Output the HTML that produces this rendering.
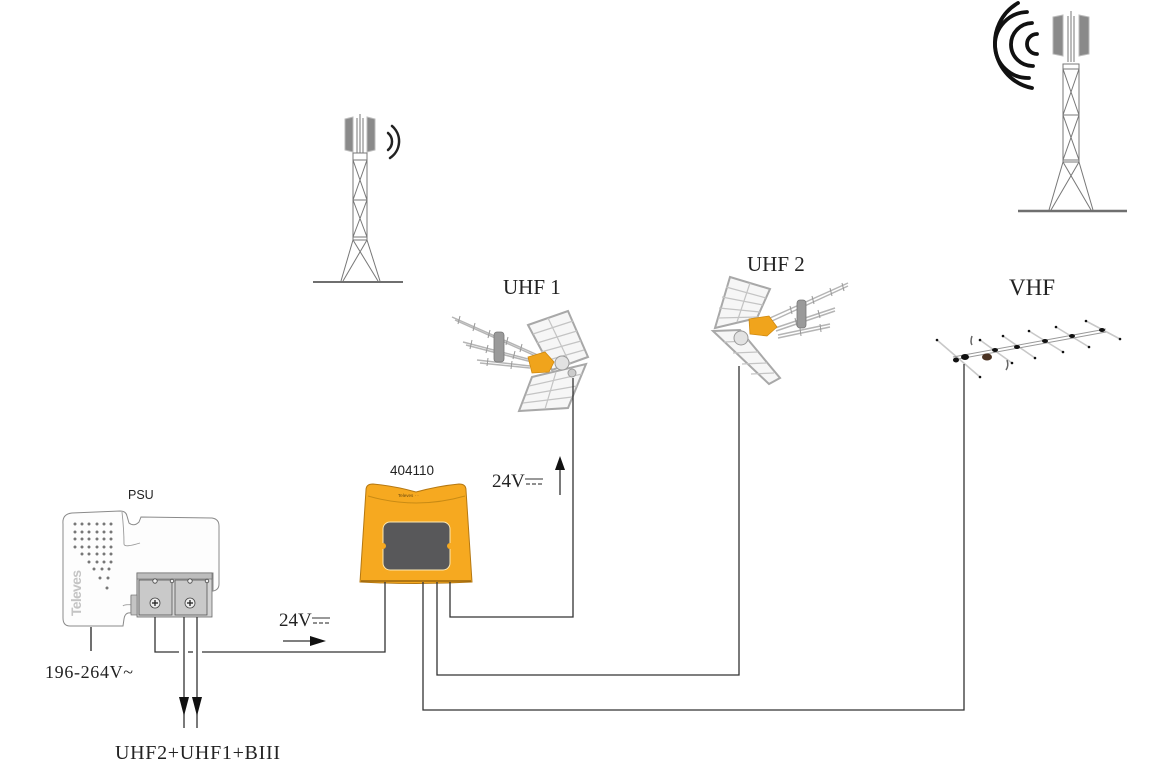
<!DOCTYPE html>
<html><head><meta charset="utf-8"><style>
html,body{margin:0;padding:0;background:#fff;}
svg{display:block;}
.serif{font-family:"Liberation Serif","DejaVu Serif",serif;fill:#222;}
.sans{font-family:"Liberation Sans","DejaVu Sans",sans-serif;fill:#222;}
</style></head><body>
<svg width="1158" height="764" viewBox="0 0 1158 764" xmlns="http://www.w3.org/2000/svg">
<rect width="1158" height="764" fill="#fff"/>

<!-- Small tower -->
<g stroke="#777" stroke-width="1" fill="none">
  <line x1="360" y1="114" x2="360" y2="153"/>
  <line x1="357" y1="118" x2="357" y2="153"/>
  <line x1="363" y1="118" x2="363" y2="153"/>
  <rect x="353" y="153" width="14" height="87"/>
  <line x1="353" y1="160" x2="367" y2="160"/>
  <line x1="353" y1="200" x2="367" y2="200"/>
  <line x1="353" y1="237" x2="367" y2="237"/>
  <line x1="353" y1="160" x2="367" y2="200"/><line x1="367" y1="160" x2="353" y2="200"/>
  <line x1="353" y1="200" x2="367" y2="237"/><line x1="367" y1="200" x2="353" y2="237"/>
  <line x1="353" y1="240" x2="341" y2="281"/><line x1="367" y1="240" x2="380" y2="281"/>
  <line x1="353" y1="240" x2="378" y2="281"/><line x1="367" y1="240" x2="343" y2="281"/>
</g>
<path d="M345,119 L353,117 L353,152 L345,150 Z" fill="#8a8a8a" stroke="#bbb" stroke-width="1"/>
<path d="M367,117 L375,119 L375,150 L367,152 Z" fill="#8a8a8a" stroke="#bbb" stroke-width="1"/>
<line x1="313" y1="282" x2="403" y2="282" stroke="#6f6f6f" stroke-width="2"/>
<g stroke="#222" stroke-width="2.5" fill="none" stroke-linecap="round">
  <path d="M388,133 A11,11 0 0 1 388,150"/>
  <path d="M392,126 A20,20 0 0 1 390,158"/>
</g>

<!-- Big tower -->
<g stroke="#777" stroke-width="1" fill="none">
  <line x1="1071" y1="11" x2="1071" y2="62"/>
  <line x1="1068" y1="16" x2="1068" y2="62"/>
  <line x1="1074" y1="16" x2="1074" y2="62"/>
  <rect x="1063" y="64" width="16" height="98"/>
  <line x1="1063" y1="69" x2="1079" y2="69"/>
  <line x1="1063" y1="115" x2="1079" y2="115"/>
  <line x1="1063" y1="160" x2="1079" y2="160"/>
  <line x1="1063" y1="69" x2="1079" y2="115"/><line x1="1079" y1="69" x2="1063" y2="115"/>
  <line x1="1063" y1="115" x2="1079" y2="160"/><line x1="1079" y1="115" x2="1063" y2="160"/>
  <line x1="1063" y1="162" x2="1049" y2="210"/><line x1="1079" y1="162" x2="1093" y2="210"/>
  <line x1="1063" y1="162" x2="1091" y2="210"/><line x1="1079" y1="162" x2="1051" y2="210"/>
</g>
<path d="M1053,17 L1063,15 L1063,56 L1053,54 Z" fill="#8a8a8a" stroke="#bbb" stroke-width="1"/>
<path d="M1079,15 L1089,17 L1089,54 L1079,56 Z" fill="#8a8a8a" stroke="#bbb" stroke-width="1"/>
<line x1="1018" y1="211" x2="1127" y2="211" stroke="#6f6f6f" stroke-width="2.5"/>
<g stroke="#111" stroke-width="3.8" fill="none" stroke-linecap="round">
  <path d="M1037,34 A10,10 0 0 0 1037,54"/>
  <path d="M1032,23 A21,21 0 0 0 1033,66"/>
  <path d="M1027,12 A33,33 0 0 0 1029,78"/>
  <path d="M1018,3 A46,46 0 0 0 1032,88"/>
</g>

<!-- UHF 1 antenna -->
<text class="serif" x="503" y="294" font-size="21">UHF 1</text>
<g stroke="#b5b5b5" stroke-width="1.5" fill="none">
  <line x1="452" y1="317" x2="540" y2="356"/>
  <line x1="455" y1="320" x2="540" y2="358"/>
  <line x1="463" y1="342" x2="532" y2="360"/>
  <line x1="466" y1="345" x2="532" y2="362"/>
  <line x1="477" y1="360" x2="530" y2="366"/>
  <line x1="480" y1="363" x2="530" y2="368"/>
</g>
<g stroke="#999" stroke-width="1">
  <line x1="460" y1="316" x2="458" y2="324"/><line x1="475" y1="323" x2="473" y2="331"/>
  <line x1="490" y1="330" x2="488" y2="338"/><line x1="508" y1="337" x2="506" y2="345"/>
  <line x1="522" y1="344" x2="520" y2="352"/>
  <line x1="472" y1="340" x2="470" y2="349"/><line x1="488" y1="345" x2="486" y2="353"/>
  <line x1="515" y1="351" x2="513" y2="359"/>
  <line x1="488" y1="358" x2="487" y2="366"/><line x1="512" y1="361" x2="511" y2="369"/>
</g>
<rect x="494" y="332" width="10" height="30" rx="3" fill="#9a9a9a" stroke="#777" stroke-width="0.8"/>
<path d="M528,325 L568,311 L588,357 L552,370 Z" fill="#f6f6f6" stroke="#a8a8a8" stroke-width="2"/>
<g stroke="#c4c4c4" stroke-width="1.2">
  <line x1="533" y1="334" x2="573" y2="321"/><line x1="537" y1="343" x2="577" y2="331"/>
  <line x1="541" y1="352" x2="581" y2="341"/><line x1="545" y1="361" x2="584" y2="350"/>
  <line x1="548" y1="318" x2="570" y2="364"/>
</g>
<path d="M532,377 L586,364 L568,408 L519,411 Z" fill="#f6f6f6" stroke="#a8a8a8" stroke-width="2"/>
<g stroke="#c4c4c4" stroke-width="1.2">
  <line x1="529" y1="386" x2="582" y2="374"/><line x1="526" y1="395" x2="577" y2="386"/>
  <line x1="523" y1="403" x2="572" y2="397"/><line x1="556" y1="372" x2="545" y2="409"/>
</g>
<path d="M528,357 L545,352 L554,362 L549,372 L532,373 Z" fill="#f0a41c" stroke="#d08a10" stroke-width="0.8"/>
<circle cx="562" cy="363" r="7" fill="#e2e2e2" stroke="#999" stroke-width="1"/>
<circle cx="572" cy="373" r="4" fill="#ccc" stroke="#999" stroke-width="1"/>

<!-- UHF 2 antenna -->
<text class="serif" x="747" y="271" font-size="21">UHF 2</text>
<g stroke="#b5b5b5" stroke-width="1.5" fill="none">
  <line x1="770" y1="318" x2="848" y2="283"/>
  <line x1="772" y1="321" x2="848" y2="286"/>
  <line x1="775" y1="328" x2="835" y2="308"/>
  <line x1="776" y1="331" x2="835" y2="311"/>
  <line x1="778" y1="335" x2="830" y2="324"/>
  <line x1="778" y1="338" x2="830" y2="327"/>
</g>
<g stroke="#999" stroke-width="1">
  <line x1="790" y1="306" x2="792" y2="314"/><line x1="812" y1="296" x2="814" y2="304"/>
  <line x1="830" y1="288" x2="832" y2="296"/><line x1="842" y1="283" x2="844" y2="291"/>
  <line x1="795" y1="318" x2="797" y2="326"/><line x1="818" y1="310" x2="820" y2="318"/>
  <line x1="800" y1="328" x2="801" y2="336"/><line x1="820" y1="324" x2="821" y2="332"/>
</g>
<rect x="797" y="300" width="9" height="28" rx="3" fill="#9a9a9a" stroke="#777" stroke-width="0.8"/>
<path d="M730,277 L770,289 L757,318 L715,328 Z" fill="#f6f6f6" stroke="#a8a8a8" stroke-width="2"/>
<g stroke="#c4c4c4" stroke-width="1.2">
  <line x1="726" y1="287" x2="766" y2="298"/><line x1="722" y1="297" x2="763" y2="305"/>
  <line x1="719" y1="308" x2="760" y2="312"/><line x1="718" y1="318" x2="758" y2="317"/>
  <line x1="750" y1="283" x2="737" y2="322"/>
</g>
<path d="M713,331 L740,330 L780,378 L769,384 Z" fill="#f6f6f6" stroke="#a8a8a8" stroke-width="2"/>
<g stroke="#c4c4c4" stroke-width="1.2">
  <line x1="724" y1="342" x2="749" y2="341"/><line x1="733" y1="353" x2="758" y2="352"/>
  <line x1="742" y1="364" x2="767" y2="363"/><line x1="751" y1="374" x2="774" y2="373"/>
</g>
<circle cx="741" cy="338" r="7" fill="#e2e2e2" stroke="#999" stroke-width="1"/>
<path d="M749,319 L769,316 L777,327 L767,336 L750,334 Z" fill="#f0a41c" stroke="#d08a10" stroke-width="0.8"/>

<!-- VHF antenna -->
<text class="serif" x="1009" y="295" font-size="23">VHF</text>
<g stroke="#c8c8c8" stroke-width="1.6">
  <line x1="937" y1="340" x2="980" y2="377"/>
  <line x1="980" y1="340" x2="1012" y2="363"/>
  <line x1="1003" y1="336" x2="1035" y2="358"/>
  <line x1="1029" y1="331" x2="1063" y2="352"/>
  <line x1="1056" y1="327" x2="1089" y2="347"/>
  <line x1="1086" y1="321" x2="1120" y2="339"/>
</g>
<line x1="953" y1="357" x2="1106" y2="329" stroke="#999" stroke-width="1"/>
<line x1="953" y1="360" x2="1106" y2="332" stroke="#999" stroke-width="1"/>
<g fill="#111">
  <circle cx="937" cy="340" r="1.3"/><circle cx="980" cy="377" r="1.3"/>
  <circle cx="980" cy="340" r="1.3"/><circle cx="1012" cy="363" r="1.3"/>
  <circle cx="1003" cy="336" r="1.3"/><circle cx="1035" cy="358" r="1.3"/>
  <circle cx="1029" cy="331" r="1.3"/><circle cx="1063" cy="352" r="1.3"/>
  <circle cx="1056" cy="327" r="1.3"/><circle cx="1089" cy="347" r="1.3"/>
  <circle cx="1086" cy="321" r="1.3"/><circle cx="1120" cy="339" r="1.3"/>
  <ellipse cx="995" cy="350" rx="3" ry="2"/><ellipse cx="1017" cy="347" rx="3" ry="2"/>
  <ellipse cx="1045" cy="341" rx="3" ry="2"/><ellipse cx="1072" cy="336" rx="3" ry="2"/>
  <ellipse cx="1102" cy="330" rx="3" ry="2"/>
  <ellipse cx="965" cy="357" rx="4" ry="3"/><ellipse cx="956" cy="360" rx="3" ry="2.5"/>
</g>
<ellipse cx="987" cy="357" rx="5" ry="3.5" fill="#4a3222"/>
<path d="M972,336 Q970,342 972,345" stroke="#666" stroke-width="1.5" fill="none"/>
<path d="M1007,360 Q1009,366 1006,370" stroke="#666" stroke-width="1.5" fill="none"/>

<!-- Module 404110 -->
<text class="sans" x="390" y="475" font-size="13.5">404110</text>
<path d="M366,490 Q366,484 373,484 Q395,486 416,492 Q438,486 459,484 Q466,484 466,490 L472,582 Q416,585 360,582 Z" fill="#f6a920" stroke="#b57812" stroke-width="1"/>
<path d="M368,496 Q416,510 465,496" stroke="#c98b14" stroke-width="1" fill="none"/>
<text x="398" y="497" font-family="Liberation Sans,sans-serif" font-size="4.5" fill="#6a4a10">Televes  ·  ·</text>
<rect x="383" y="522" width="67" height="48" rx="7" fill="#58585a" stroke="#fde8b0" stroke-width="1"/>
<circle cx="383" cy="546" r="3" fill="#f6a920"/>
<circle cx="450" cy="546" r="3" fill="#f6a920"/>
<line x1="361" y1="581" x2="471" y2="581" stroke="#8a5a0a" stroke-width="1.2"/>

<!-- PSU -->
<text class="sans" x="128" y="499" font-size="12.5">PSU</text>
<path d="M63,524 Q62,514 72,513 L120,511 Q126,511 127,516 L129,523 Q134,527 139,522 L141,517 L212,518 Q219,519 219,526 L219,584 Q219,590 213,591 L213,573 L137,573 L137,596 L131,596 L131,613 Q125,612 124,619 L123,626 L70,626 Q63,626 63,618 Z" fill="#fdfdfd" stroke="#8a8a8a" stroke-width="1"/>
<path d="M122,512 Q124,530 124,544 Q124,548 140,543" stroke="#9a9a9a" stroke-width="0.9" fill="none"/>
<path d="M123,606 Q124,604 137,605" stroke="#9a9a9a" stroke-width="0.9" fill="none"/>
<g fill="#777">
  <circle cx="75" cy="524" r="1.5"/><circle cx="82" cy="524" r="1.5"/><circle cx="89" cy="524" r="1.5"/><circle cx="97" cy="524" r="1.5"/><circle cx="104" cy="524" r="1.5"/><circle cx="111" cy="524" r="1.5"/>
  <circle cx="75" cy="532" r="1.5"/><circle cx="82" cy="532" r="1.5"/><circle cx="89" cy="532" r="1.5"/><circle cx="97" cy="532" r="1.5"/><circle cx="104" cy="532" r="1.5"/><circle cx="111" cy="532" r="1.5"/>
  <circle cx="75" cy="539" r="1.5"/><circle cx="82" cy="539" r="1.5"/><circle cx="89" cy="539" r="1.5"/><circle cx="97" cy="539" r="1.5"/><circle cx="104" cy="539" r="1.5"/><circle cx="111" cy="539" r="1.5"/>
  <circle cx="75" cy="547" r="1.5"/><circle cx="82" cy="547" r="1.5"/><circle cx="89" cy="547" r="1.5"/><circle cx="97" cy="547" r="1.5"/><circle cx="104" cy="547" r="1.5"/><circle cx="111" cy="547" r="1.5"/>
  <circle cx="82" cy="554" r="1.5"/><circle cx="89" cy="554" r="1.5"/><circle cx="97" cy="554" r="1.5"/><circle cx="104" cy="554" r="1.5"/><circle cx="111" cy="554" r="1.5"/>
  <circle cx="89" cy="562" r="1.5"/><circle cx="97" cy="562" r="1.5"/><circle cx="104" cy="562" r="1.5"/><circle cx="111" cy="562" r="1.5"/>
  <circle cx="94" cy="569" r="1.5"/><circle cx="102" cy="569" r="1.5"/><circle cx="109" cy="569" r="1.5"/>
  <circle cx="100" cy="578" r="1.5"/><circle cx="108" cy="578" r="1.5"/>
  <circle cx="107" cy="588" r="1.5"/>
</g>
<text x="0" y="0" transform="translate(81,616) rotate(-90)" font-family="Liberation Sans,sans-serif" font-weight="bold" font-size="14" fill="#c4c4c4" textLength="46">Televes</text>
<!-- terminal block -->
<rect x="137" y="573" width="75" height="44" fill="#d4d4d4" stroke="#666" stroke-width="0.8"/>
<rect x="137" y="573" width="75" height="6" fill="#bdbdbd" stroke="#666" stroke-width="0.6"/>
<rect x="131" y="595" width="6" height="20" fill="#c4c4c4" stroke="#666" stroke-width="0.6"/>
<rect x="139" y="580" width="33" height="35" fill="#c9c9c9" stroke="#555" stroke-width="0.8"/>
<rect x="175" y="580" width="32" height="35" fill="#c9c9c9" stroke="#555" stroke-width="0.8"/>
<g fill="#eee" stroke="#444" stroke-width="0.8">
  <circle cx="155" cy="581" r="2.2"/><circle cx="172" cy="581" r="1.8"/><circle cx="190" cy="581" r="2.2"/><circle cx="207" cy="581" r="1.8"/>
  <circle cx="155" cy="603" r="5"/><circle cx="190" cy="603" r="5"/>
</g>
<g stroke="#222" stroke-width="1.3">
  <line x1="152" y1="603" x2="158" y2="603"/><line x1="155" y1="600" x2="155" y2="606"/>
  <line x1="187" y1="603" x2="193" y2="603"/><line x1="190" y1="600" x2="190" y2="606"/>
</g>
<line x1="91" y1="627" x2="91" y2="651" stroke="#333" stroke-width="1.4"/>
<text class="serif" x="45" y="678" font-size="18" textLength="88">196-264V~</text>

<!-- Wires -->
<g stroke="#333" stroke-width="1.3" fill="none">
  <polyline points="573,378 573,617 450,617 450,582"/>
  <polyline points="739,366 739,675 437,675 437,582"/>
  <polyline points="964,364 964,710 423,710 423,582"/>
  <polyline points="385,582 385,652 202,652"/>
  <line x1="188" y1="652" x2="193" y2="652"/>
  <polyline points="179,652 155,652 155,617"/>
  <line x1="184" y1="617" x2="184" y2="728"/>
  <line x1="197" y1="617" x2="197" y2="728"/>
  <line x1="283" y1="641" x2="312" y2="641"/>
  <line x1="560" y1="495" x2="560" y2="468"/>
</g>
<g fill="#111">
  <polygon points="179,697 189,697 184,716"/>
  <polygon points="192,697 202,697 197,716"/>
  <polygon points="310,636 310,646 326,641"/>
  <polygon points="555,470 565,470 560,456"/>
</g>
<text class="serif" x="279" y="626" font-size="19">24V</text>
<g stroke="#333" stroke-width="1.1">
  <line x1="312" y1="618" x2="330" y2="618"/>
  <line x1="313" y1="623" x2="317" y2="623"/><line x1="319" y1="623" x2="323" y2="623"/><line x1="325" y1="623" x2="329" y2="623"/>
</g>
<text class="serif" x="492" y="487" font-size="19">24V</text>
<g stroke="#333" stroke-width="1.1">
  <line x1="525" y1="479" x2="543" y2="479"/>
  <line x1="526" y1="484" x2="530" y2="484"/><line x1="532" y1="484" x2="536" y2="484"/><line x1="538" y1="484" x2="542" y2="484"/>
</g>
<text class="serif" x="115" y="759" font-size="20" textLength="165">UHF2+UHF1+BIII</text>
</svg>
</body></html>
